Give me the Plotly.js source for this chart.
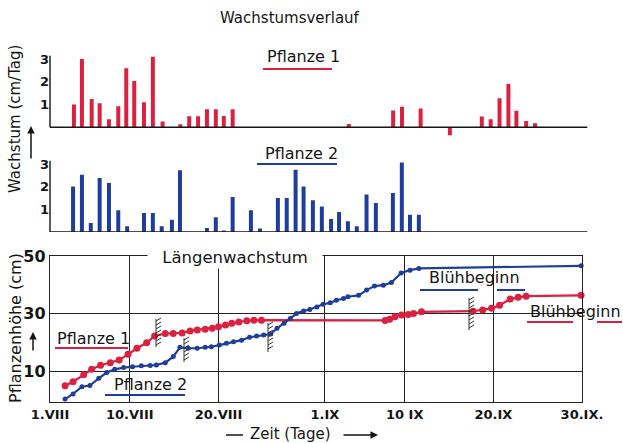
<!DOCTYPE html>
<html><head><meta charset="utf-8">
<script src="https://cdn.plot.ly/plotly-3.0.1.min.js"></script>
<style>html,body{margin:0;padding:0;background:#fff}#chart{width:623px;height:443px}</style>
</head><body><div id="chart"></div>
<script>
// ---- data (day 1 = 1.VIII, day 32 = 1.IX, day 61 = 30.IX) ----
const p1BarDays = [3.7,4.6,5.7,6.6,7.65,8.7,9.6,10.5,11.6,12.6,13.7,
  15.7,16.7,17.7,18.7,19.7,20.6,21.6, 34.7, 39.7,40.7,42.8, 46.1,
  49.7,50.7,51.7,52.7,53.6,54.7,55.7];
const p1Growth = [1.0,3.0,1.24,1.05,0.35,0.92,2.59,2.03,1.1,3.1,0.25,
  0.13,0.48,0.48,0.79,0.79,0.5,0.79, 0.14, 0.74,0.9,0.83, -0.35,
  0.47,0.35,1.27,1.9,0.73,0.28,0.18];
const p2BarDays = [3.6,4.6,5.6,6.6,7.65,8.7,9.7, 11.6,12.6,13.6,14.75,15.66,
  18.7,19.7,20.6,21.6, 23.66,24.68, 26.7,27.7,28.7,29.6,30.65,31.66,32.7,33.6,34.6,35.6,36.7,37.75,
  39.67,40.68,41.6,42.6];
const p2Growth = [2.01,2.53,0.4,2.38,2.16,0.96,0.25, 0.84,0.84,0.25,0.54,2.72,
  0.18,0.65,0.07,1.54, 0.96,0.15, 1.5,1.5,2.75,2.01,1.4,1.13,0.57,0.88,0.47,0.25,1.65,1.28,
  1.72,3.07,0.76,0.76];
const p1Days = [2.7,3.6,4.8,5.7,6.7,7.8,8.8,9.8,10.8,11.9,12.8,14.0,14.9,15.9,16.8,17.6,18.5,19.3,20.0,20.8,21.5,22.3,23.2,24.0,24.85,
  38.8,39.3,39.9,40.65,41.4,42.0,42.9,48.7,49.8,50.8,51.7,52.9,53.8,54.7,60.9];
const p1Height = [5.1,6.5,8.9,10.8,12.2,13.1,14.0,16.0,18.1,20.0,22.3,23.2,23.2,23.4,24.1,24.4,24.7,25.0,25.5,26.1,26.7,27.2,27.6,27.8,27.8,
  27.7,28.1,29.0,29.6,29.8,30.1,30.7,30.9,31.3,31.9,33.0,35.1,35.7,36.1,36.4];
const p2Days = [2.7,3.6,4.6,5.5,6.5,7.4,8.3,9.3,10.3,11.3,12.3,13.0,14.0,14.9,15.65,16.6,17.6,18.5,19.2,20.1,20.9,21.7,22.6,23.5,24.3,25.1,25.9,
  26.6,27.4,28.1,28.8,29.6,30.3,31.1,31.8,32.6,33.3,34.1,34.6,35.8,36.7,37.6,38.6,39.5,40.6,41.6,42.6,60.9];
const p2Height = [0.5,2.3,4.8,5.2,7.7,9.7,10.8,11.4,11.7,12.0,12.1,12.3,13.1,15.2,18.4,18.1,18.1,18.4,18.6,19.2,19.8,20.3,20.9,21.9,22.3,22.7,23.0,
  25.0,26.7,28.4,30.1,31.0,31.5,32.4,33.3,33.8,34.7,35.3,35.9,36.4,38.2,39.6,39.9,40.8,44.1,45.1,45.7,46.6];
const dateTickDays = [1,10,20,32,41,51,61];
const dateTickLabels = ["1.VIII","10.VIII","20.VIII","1.IX","10 IX","20.IX","30.IX."];
const heightTicks = [10,30,50];
const growthTicks = [1,2,3];

// ---- styling ----
const RED = '#dc2040', BLUE = '#1f3d9c', INK = '#151515';
const FONT = 'DejaVu Sans';
const W = 623, H = 443, L = 50, R = 41;
const X = px => (px - L) / (W - L - R);
const Y = py => (H - py) / H;

const traces = [
  {type:'bar', x:p1BarDays, y:p1Growth, xaxis:'x2', yaxis:'y2', width:0.45,
   marker:{color:RED}, hoverinfo:'skip'},
  {type:'bar', x:p2BarDays, y:p2Growth, xaxis:'x3', yaxis:'y3', width:0.45,
   marker:{color:BLUE}, hoverinfo:'skip'},
  {type:'scatter', mode:'lines+markers', x:p1Days, y:p1Height, xaxis:'x', yaxis:'y',
   line:{color:RED, width:2.2}, marker:{color:RED, size:7}, cliponaxis:false},
  {type:'scatter', mode:'lines+markers', x:p2Days, y:p2Height, xaxis:'x', yaxis:'y',
   line:{color:BLUE, width:2.2}, marker:{color:BLUE, size:5}, cliponaxis:false}
];

function hline(x0, x1, py, color, w) {
  return {type:'line', xref:'paper', yref:'paper', x0:X(x0), x1:X(x1), y0:Y(py), y1:Y(py),
          line:{color:color, width:w}};
}
function hatch(px, top, bot) {
  let d = `M${X(px)},${Y(top)} L${X(px)},${Y(bot)}`;
  for (let y = top + 2; y <= bot; y += 4) d += ` M${X(px)},${Y(y)} L${X(px + 5)},${Y(y - 3)}`;
  return {type:'path', xref:'paper', yref:'paper', path:d, line:{color:'#333', width:1}};
}

const shapes = [
  {type:'line', xref:'paper', yref:'y2', x0:0, x1:1.01, y0:0, y1:0, line:{color:INK, width:1.6}},
  {type:'line', xref:'paper', yref:'y2', x0:0, x1:0, y0:0, y1:3.15, line:{color:INK, width:1.4}},
  {type:'line', xref:'paper', yref:'y3', x0:0, x1:1.01, y0:0, y1:0, line:{color:INK, width:1.6}},
  {type:'line', xref:'paper', yref:'y3', x0:0, x1:0, y0:0, y1:3.15, line:{color:INK, width:1.4}},
  hline(263, 332, 69, RED, 2),
  hline(257, 337, 164, BLUE, 2),
  hline(55, 128, 348, RED, 2),
  hline(105, 185, 395, BLUE, 2),
  hline(420, 478, 290, BLUE, 2), hline(497, 525, 290, BLUE, 2),
  hline(527, 573, 322, RED, 2), hline(597, 622, 322, RED, 2),
  hline(226, 243, 435, INK, 1.5),
  hatch(156, 319, 347), hatch(184, 338, 362), hatch(268, 323, 352), hatch(469, 298, 330)
];

function txt(text, px, py, size, extra) {
  return Object.assign({text:text, xref:'paper', yref:'paper', x:X(px), y:Y(py),
    xanchor:'center', yanchor:'middle', showarrow:false,
    font:{family:FONT, size:size, color:INK}}, extra || {});
}
function arrow(px, py, ax, ay) {
  return {text:'', xref:'paper', yref:'paper', x:X(px), y:Y(py), ax:ax, ay:ay,
    showarrow:true, arrowhead:2, arrowsize:1, arrowwidth:1.5, arrowcolor:INK};
}

const annotations = [
  txt('Wachstumsverlauf', 290, 18, 15),
  txt('Pflanze 1', 303, 56, 16),
  txt('Pflanze 2', 301, 153, 16),
  txt('Längenwachstum', 235, 257, 16.5, {bgcolor:'#fff', width:172, height:19}),
  txt('Pflanze 1', 93, 338, 16),
  txt('Pflanze 2', 150, 384, 16),
  txt('Blühbeginn', 474, 277, 16),
  txt('Blühbeginn', 575, 311, 16),
  txt('Wachstum (cm/Tag)', 15, 119, 15, {textangle:-90}),
  txt('Pflanzenhöhe (cm)', 15, 328, 16, {textangle:-90}),
  txt('Zeit (Tage)', 290, 434, 15),
  arrow(31, 126, 0, 34),
  arrow(33, 332, 0, 20),
  arrow(378, 435, -36, 0)
];

const tickFont = {family:FONT, size:13, color:INK, weight:'bold'};
const layout = {
  width:W, height:H, margin:{l:L, r:R, t:0, b:0},
  paper_bgcolor:'#fff', plot_bgcolor:'rgba(0,0,0,0)', showlegend:false,
  xaxis:{domain:[0,1], range:[1,61], anchor:'y', tickmode:'array', tickvals:dateTickDays, ticktext:dateTickLabels,
    showgrid:true, gridcolor:'#222', gridwidth:1, showline:true, mirror:true, linecolor:'#222', linewidth:1.2,
    ticks:'', zeroline:false, tickfont:tickFont, fixedrange:true},
  yaxis:{domain:[Y(402), Y(256)], range:[-0.5,50], anchor:'x', tickmode:'array', tickvals:heightTicks,
    showgrid:true, gridcolor:'#222', gridwidth:1, showline:true, mirror:true, linecolor:'#222', linewidth:1.2,
    ticks:'', zeroline:false, tickfont:{family:FONT, size:16, color:INK, weight:'bold'}, fixedrange:true},
  xaxis2:{domain:[0,1], range:[1,61], anchor:'y2', visible:false, fixedrange:true},
  yaxis2:{domain:[Y(137.5), Y(55.6)], range:[-0.45,3.15], anchor:'x2', tickmode:'array', tickvals:growthTicks,
    showgrid:false, zeroline:false, showline:false, ticks:'', tickfont:tickFont, fixedrange:true},
  xaxis3:{domain:[0,1], range:[1,61], anchor:'y3', visible:false, fixedrange:true},
  yaxis3:{domain:[Y(232), Y(160.6)], range:[0,3.15], anchor:'x3', tickmode:'array', tickvals:growthTicks,
    showgrid:false, zeroline:false, showline:false, ticks:'', tickfont:tickFont, fixedrange:true},
  shapes:shapes, annotations:annotations
};
Plotly.newPlot('chart', traces, layout, {displayModeBar:false, staticPlot:true});
</script></body></html>
